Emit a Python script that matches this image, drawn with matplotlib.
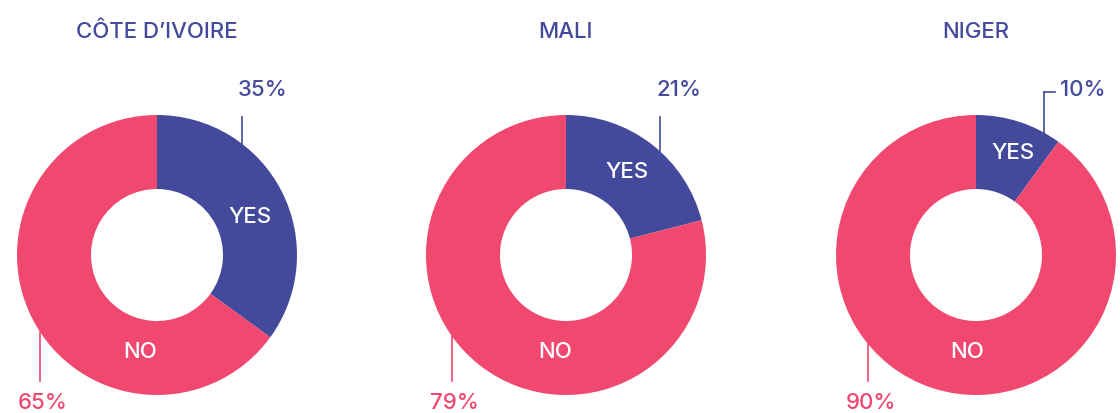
import numpy as np
import matplotlib.pyplot as plt

countries = ["CÔTE D\u2019IVOIRE", "MALI", "NIGER"]
yes_pct = [35, 21, 10]
no_pct = [65, 79, 90]
labels = ["YES", "NO"]

BLUE = "#444a9b"
PINK = "#f0486f"
FONT = ["Inter", "DejaVu Sans"]
FS = 16
FW = "medium"

W, H = 1120, 413
fig = plt.figure(figsize=(W / 100, H / 100), dpi=100)
ax = fig.add_axes([0, 0, 1, 1])

centers_x = [157, 566, 976]
cy = H - 255
R = 140
hole = 66

# small nudges for the in-wedge labels (pixels)
yes_nudge = [(1, -9), (-2, 2), (2, -5)]
no_nudge = [(-17, 0), (-11, 0), (-9, 0)]

for i, (name, y, n) in enumerate(zip(countries, yes_pct, no_pct)):
    cx = centers_x[i]
    ax.pie([y, n], colors=[BLUE, PINK], startangle=90, counterclock=False,
           radius=R, center=(cx, cy), frame=True,
           wedgeprops=dict(width=R - hole, linewidth=0))
    ax.text(cx, H - 32, name, ha="center", va="center", color=BLUE,
            fontsize=FS, fontfamily=FONT, fontweight=FW)

    # in-wedge labels near the middle of each wedge
    yes_mid = np.deg2rad(90 - y / 100 * 360 / 2)
    rl = (R + hole) / 2
    if y > 15:
        px, py = cx + rl * np.cos(yes_mid), cy + rl * np.sin(yes_mid)
    else:
        px, py = cx + 0.9 * (rl + 22) * np.cos(yes_mid), cy + (rl + 22) * np.sin(yes_mid) - 12
    ax.text(px + yes_nudge[i][0], py + yes_nudge[i][1], labels[0],
            ha="center", va="center", color="white", fontsize=FS,
            fontfamily=FONT, fontweight=FW)
    ax.text(cx + no_nudge[i][0], H - 352, labels[1], ha="center",
            va="center", color="white", fontsize=FS, fontfamily=FONT,
            fontweight=FW)

# leader lines & percentage labels
yes_line_x = [242, 660, 1044]
no_line_x = [40, 452, 868]
for i, (y, n) in enumerate(zip(yes_pct, no_pct)):
    cx = centers_x[i]
    lx = yes_line_x[i]
    y_edge = cy + np.sqrt(R ** 2 - (lx - cx) ** 2)
    top = H - 117 if i < 2 else H - 92
    ax.plot([lx, lx], [top, y_edge], color=BLUE, lw=1.2)
    if i == 2:
        ax.plot([lx, lx + 11], [top, top], color=BLUE, lw=1.2)
        ax.text(lx + 16, H - 90, f"{y}%", ha="left", va="center", color=BLUE,
                fontsize=FS, fontfamily=FONT, fontweight=FW)
    else:
        ax.text(lx - 4, H - 90, f"{y}%", ha="left", va="center", color=BLUE,
                fontsize=FS, fontfamily=FONT, fontweight=FW)
    nx = no_line_x[i]
    y_edge = cy - np.sqrt(R ** 2 - (nx - cx) ** 2)
    ax.plot([nx, nx], [y_edge, H - 381], color=PINK, lw=1.2)
    ax.text(nx - 22, H - 403, f"{n}%", ha="left", va="center", color=PINK,
            fontsize=FS, fontfamily=FONT, fontweight=FW)

ax.set_xlim(0, W)
ax.set_ylim(0, H)
ax.set_aspect("auto")
ax.axis("off")
fig.savefig("out.png", dpi=100)
